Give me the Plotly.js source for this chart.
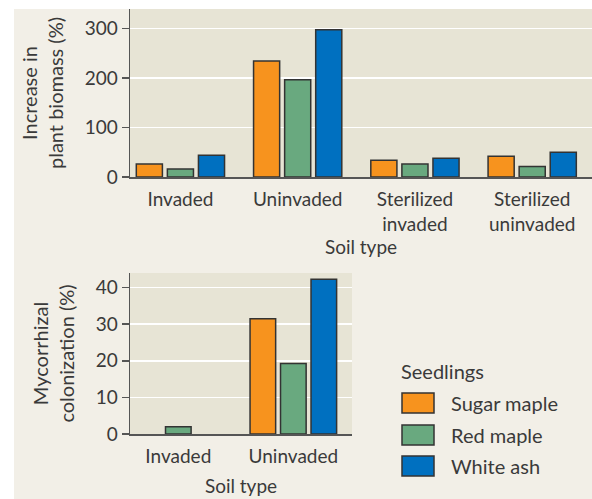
<!DOCTYPE html>
<html><head><meta charset="utf-8">
<script src="https://cdn.plot.ly/plotly-3.0.1.min.js"></script>
<style>html,body{margin:0;padding:0;background:#fff}</style>
</head><body><div id="chart" style="width:592px;height:499px"></div>
<script>
const soilTypesTop = ["Invaded", "Uninvaded", "Sterilized<br>invaded", "Sterilized<br>uninvaded"];
const soilTypesBottom = ["Invaded", "Uninvaded"];
const seedlings = ["Sugar maple", "Red maple", "White ash"];
const seedlingColors = ["#f7931e", "#69a97f", "#0070c0"];
const biomassSugar = [26, 234, 34, 42];
const biomassRed = [16, 196, 26, 21];
const biomassAsh = [44, 297, 38, 50];
const colonSugar = [0, 31.5];
const colonRed = [2, 19.3];
const colonAsh = [0, 42.3];
const yTicksTop = [0, 100, 200, 300];
const yTicksBottom = [0, 10, 20, 30, 40];

const W = 592, H = 499;
const px = v => v / W;
const py = v => 1 - v / H;
const txt = "#3a3a3a";
const FONT = "Lato, 'Open Sans', sans-serif";

const topSeries = [biomassSugar, biomassRed, biomassAsh];
const botSeries = [colonSugar, colonRed, colonAsh];
const traces = [];
const mk = (vals, i) => ({color: seedlingColors[i],
  line: {color: "#333", width: vals.map(v => v > 0 ? 1.5 : 0)}});
topSeries.forEach((vals, i) => traces.push({
  type: "bar", x: soilTypesTop, y: vals, name: seedlings[i],
  xaxis: "x", yaxis: "y", showlegend: false, hoverinfo: "skip", marker: mk(vals, i)
}));
botSeries.forEach((vals, i) => traces.push({
  type: "bar", x: soilTypesBottom, y: vals, name: seedlings[i],
  xaxis: "x2", yaxis: "y2", showlegend: false, hoverinfo: "skip", marker: mk(vals, i)
}));

const axisCommonY = {
  showline: true, linecolor: "#555", linewidth: 1.5,
  ticks: "outside", ticklen: 7, tickcolor: "#555", tickwidth: 1.5,
  showgrid: true, gridcolor: "#ffffff", gridwidth: 1.5,
  zeroline: false, tickfont: {family: FONT, size: 19, color: txt},
  fixedrange: true
};
const axisCommonX = {
  type: "category", showline: true, linecolor: "#555", linewidth: 1.5,
  ticks: "", showgrid: false, zeroline: false, ticklabelstandoff: 5,
  tickfont: {family: FONT, size: 19, color: txt}, fixedrange: true
};

const shapes = [
  {type: "rect", xref: "paper", yref: "paper", x0: px(0), x1: px(14), y0: 0, y1: 1,
   fillcolor: "#ffffff", line: {width: 0}, layer: "above"},
  {type: "rect", xref: "paper", yref: "paper", x0: 0, x1: 1, y0: py(9), y1: 1,
   fillcolor: "#ffffff", line: {width: 0}, layer: "above"}
];
const annotations = [
  {xref: "paper", yref: "paper", x: px(399), y: py(371), xanchor: "left", yanchor: "middle",
   text: "Seedlings", showarrow: false, font: {family: FONT, size: 20, color: txt}}
];
const legendY = [403, 435, 466];
seedlings.forEach((s, i) => {
  shapes.push({type: "rect", xref: "paper", yref: "paper",
    x0: px(402), x1: px(434), y0: py(legendY[i] + 10), y1: py(legendY[i] - 10),
    fillcolor: seedlingColors[i], line: {color: "#333", width: 1.5}});
  annotations.push({xref: "paper", yref: "paper", x: px(449), y: py(legendY[i]),
    xanchor: "left", yanchor: "middle", text: s, showarrow: false,
    font: {family: FONT, size: 20, color: txt}});
});

const layout = {
  width: W, height: H,
  margin: {l: 0, r: 0, t: 0, b: 0},
  paper_bgcolor: "#f2efe7", plot_bgcolor: "#e7e4d5",
  font: {family: FONT, size: 19, color: txt},
  barmode: "group", bargap: 0.205, bargroupgap: 0.16,
  showlegend: false,
  xaxis: Object.assign({}, axisCommonX, {
    domain: [px(130), 1], anchor: "y", range: [-0.43, 3.51],
    title: {text: "Soil type", font: {family: FONT, size: 19, color: txt}, standoff: 6}
  }),
  yaxis: Object.assign({}, axisCommonY, {
    domain: [py(177), py(9)], anchor: "x", range: [0, 339], tickvals: yTicksTop,
    title: {text: "Increase in<br>plant biomass (%)", font: {family: FONT, size: 20, color: txt}, standoff: 15}
  }),
  xaxis2: Object.assign({}, axisCommonX, {
    domain: [px(130), px(352)], anchor: "y2", range: [-0.42, 1.51],
    title: {text: "Soil type", font: {family: FONT, size: 19, color: txt}, standoff: 13}
  }),
  yaxis2: Object.assign({}, axisCommonY, {
    domain: [py(434), py(273)], anchor: "x2", range: [0, 44], tickvals: yTicksBottom,
    title: {text: "Mycorrhizal<br>colonization (%)", font: {family: FONT, size: 20, color: txt}, standoff: 15}
  }),
  shapes: shapes,
  annotations: annotations
};

Plotly.newPlot("chart", traces, layout, {displayModeBar: false, staticPlot: true});
</script>
</body></html>
